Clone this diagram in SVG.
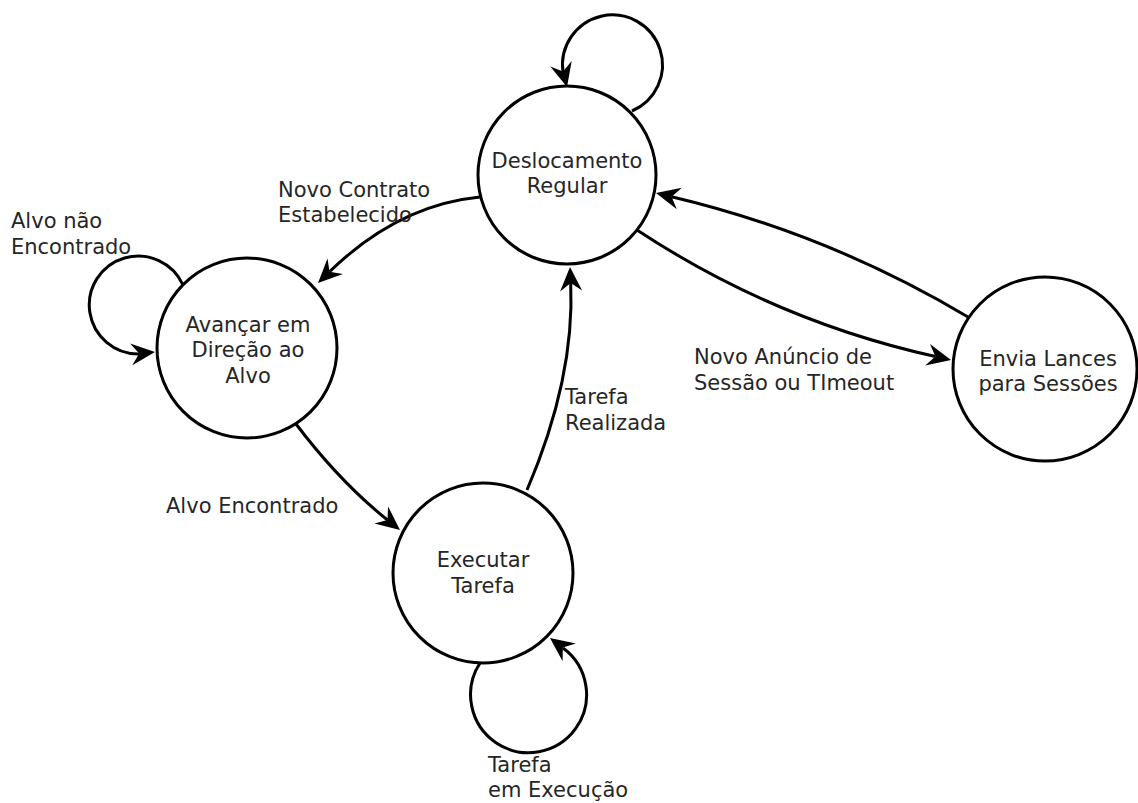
<svg xmlns="http://www.w3.org/2000/svg" width="1138" height="803" viewBox="0 0 1138 803">
<style>
.n{fill:#fff;stroke:#000;stroke-width:3}
.e{fill:none;stroke:#000;stroke-width:3}
.a{fill:#000;stroke:none}
text{font-family:"DejaVu Sans",Verdana,sans-serif;font-size:21px;fill:#262626}
.c{text-anchor:middle}
</style>
<rect width="1138" height="803" fill="#fff"/>
<g id="connectors">
<path class="e" d="M632,111 A50,50 0 1 0 563,72"/>
<polygon class="a" points="567,87 571.7,61 563,71.5 550.3,66.5"/>
<path class="e" d="M183,285 A49,49 0 1 0 139,354"/>
<polygon class="a" points="155,352 132.3,365.3 139.2,353.6 130.1,343.5"/>
<path class="e" d="M480,663 A58,58 0 1 0 563,648"/>
<polygon class="a" points="550,638 575.8,643.6 562.8,647.6 562.6,661.2"/>
<path class="e" d="M480,197 Q398,205 329.5,271.8"/>
<polygon class="a" points="318,283 342.9,274.1 329.5,271.8 327.5,258.4"/>
<path class="e" d="M296,424 Q340,482 387.5,520"/>
<polygon class="a" points="400,530 374.4,523.6 387.5,520 388.1,506.4"/>
<path class="e" d="M527,490 Q575,378 570.7,283"/>
<polygon class="a" points="570,267 582.1,290.5 570.7,283 560.1,291.5"/>
<path class="e" d="M637,230 Q775,321 935.4,356.5"/>
<polygon class="a" points="951,360 925.2,365.5 935.4,356.5 930,344.1"/>
<path class="e" d="M968,317 Q829,234 671.6,196.7"/>
<polygon class="a" points="656,193 681.9,187.8 671.6,196.7 676.8,209.2"/>
</g>
<g id="deslocamento">
<circle class="n" cx="567" cy="175" r="89"/>
<text class="c" x="567" y="168">Deslocamento</text>
<text class="c" x="567" y="193">Regular</text>
</g>
<g id="avancar">
<circle class="n" cx="247" cy="348" r="90"/>
<text class="c" x="248" y="332">Avançar em</text>
<text class="c" x="248" y="357">Direção ao</text>
<text class="c" x="248" y="383">Alvo</text>
</g>
<g id="executar">
<circle class="n" cx="483" cy="573" r="90"/>
<text class="c" x="483" y="567">Executar</text>
<text class="c" x="483" y="593">Tarefa</text>
</g>
<g id="envia">
<circle class="n" cx="1045" cy="369" r="92"/>
<text class="c" x="1048" y="366">Envia Lances</text>
<text class="c" x="1048" y="391">para Sessões</text>
</g>
<g id="labels">
<text x="278" y="197">Novo Contrato</text>
<text x="278" y="222">Estabelecido</text>
<text x="11" y="228">Alvo não</text>
<text x="11" y="254">Encontrado</text>
<text x="166" y="513">Alvo Encontrado</text>
<text x="565" y="404">Tarefa</text>
<text x="565" y="430">Realizada</text>
<text x="694" y="364">Novo Anúncio de</text>
<text x="694" y="390">Sessão ou TImeout</text>
<text x="488" y="772">Tarefa</text>
<text x="488" y="797">em Execução</text>
</g>
</svg>
